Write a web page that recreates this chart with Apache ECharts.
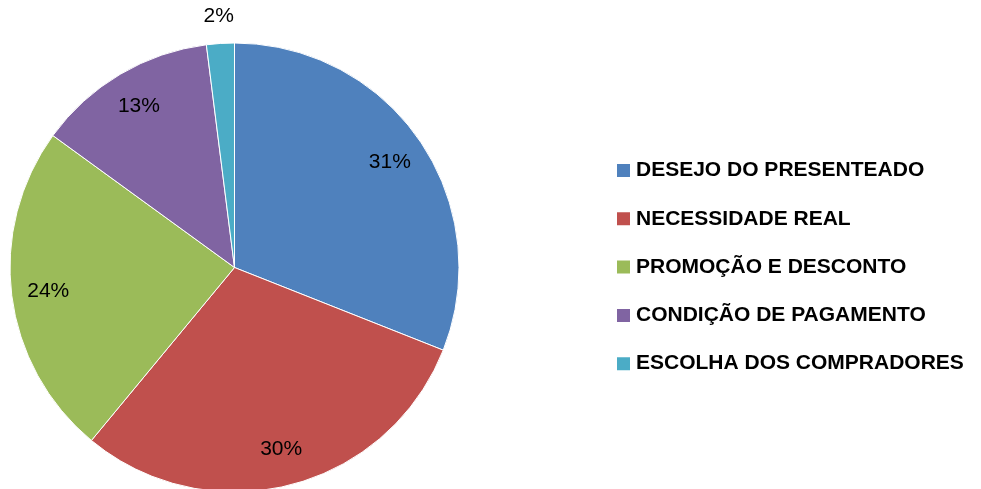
<!DOCTYPE html>
<html>
<head>
<meta charset="utf-8">
<script src="https://cdn.jsdelivr.net/npm/echarts@6/dist/echarts.min.js"></script>
<style>html,body{margin:0;padding:0;background:#fff}#c{width:981px;height:489px}</style>
</head>
<body>
<div id="c"></div>
<script>
var categories = ['DESEJO DO PRESENTEADO', 'NECESSIDADE REAL', 'PROMOÇÃO E DESCONTO', 'CONDIÇÃO DE PAGAMENTO', 'ESCOLHA DOS COMPRADORES'];
var values = [31, 30, 24, 13, 2];
var colors = ['#4F81BD', '#C0504D', '#9BBB59', '#8064A2', '#4BACC6'];

var chart = echarts.init(document.getElementById('c'), null, {renderer: 'canvas'});
var center = [234.5, 267.5];
var R = 224.5;
var labelFont = {fontFamily: 'Liberation Sans', fontSize: 21, color: '#000'};

function mk(extra) {
  return categories.map(function (n, i) {
    var d = {name: n, value: values[i]};
    if (extra) extra(d, i);
    return d;
  });
}

chart.setOption({
  animation: false,
  color: colors,
  legend: {
    orient: 'vertical',
    left: 610,
    top: 155,
    itemWidth: 15,
    itemHeight: 15,
    itemGap: 27.3,
    icon: 'rect',
    textStyle: {fontFamily: 'Liberation Sans', fontWeight: 'bold', fontSize: 21, lineHeight: 21, color: '#000'},
    data: categories
  },
  series: [
    {
      type: 'pie',
      center: center,
      radius: [0, R],
      startAngle: 90,
      clockwise: true,
      silent: true,
      label: {show: false},
      labelLine: {show: false},
      itemStyle: {borderColor: '#fff', borderWidth: 1},
      data: mk()
    },
    {
      type: 'pie',
      center: center,
      radius: [145, R],
      startAngle: 90,
      clockwise: true,
      silent: true,
      legendHoverLink: false,
      itemStyle: {color: 'transparent'},
      label: Object.assign({show: true, position: 'inside', formatter: '{d}%'}, labelFont),
      labelLine: {show: false},
      data: mk(function (d, i) { if (i === 4) d.label = {show: false}; })
    },
    {
      type: 'pie',
      center: center,
      radius: [240, 258],
      startAngle: 90,
      clockwise: true,
      silent: true,
      legendHoverLink: false,
      itemStyle: {color: 'transparent'},
      label: Object.assign({show: false, position: 'inside', formatter: '{d}%'}, labelFont),
      labelLine: {show: false},
      data: mk(function (d, i) { if (i === 4) d.label = {show: true}; })
    }
  ]
});
</script>
</body>
</html>
